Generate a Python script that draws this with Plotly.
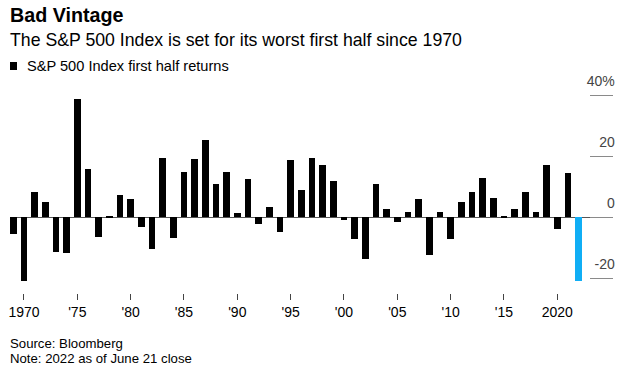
import plotly.graph_objects as go

years = list(range(1969, 2023))
returns = [-5.6, -20.9, 8.2, 4.9, -11.5, -11.8, 38.7, 15.7, -6.3, 0.4,
           7.2, 6.0, -3.1, -10.5, 19.5, -6.9, 14.8, 19.0, 25.3, 10.8,
           14.8, 1.4, 12.5, -2.1, 3.4, -4.7, 18.7, 8.9, 19.5, 17.0,
           11.8, -0.9, -7.2, -13.8, 10.8, 2.7, -1.5, 1.7, 6.0, -12.5,
           1.7, -7.2, 4.9, 8.2, 12.8, 6.3, 0.4, 2.7, 8.2, 1.7,
           17.2, -3.7, 14.4, -20.9]
highlight_year = 2022
series_name = "S&P 500 Index first half returns"
x_tickvals = [1970, 1975, 1980, 1985, 1990, 1995, 2000, 2005, 2010, 2015, 2020]
x_ticktext = ["1970", "'75", "'80", "'85", "'90", "'95", "'00", "'05", "'10", "'15", "2020"]
y_tickvals = [-20, 0, 20, 40]
y_ticktext = ["-20", "0", "20", "40%"]

BLACK = "#000000"
BLUE = "#10AEF5"
colors = [BLUE if y == highlight_year else BLACK for y in years]
FONT = "Liberation Sans, Arial, sans-serif"

W, H = 638, 377
ML, MR, MT, MB = 10, 25, 62, 84
PW, PH = W - ML - MR, H - MT - MB
ZERO_PX = 217.3
PX_PER_PCT = 3.05
y_range = [-(H - MB - ZERO_PX) / PX_PER_PCT, (ZERO_PX - MT) / PX_PER_PCT]


def px_x(px):
    return (px - ML) / PW


def px_y(py):
    return (H - MB - py) / PH


fig = go.Figure()
fig.add_trace(go.Bar(x=years, y=returns, name=series_name,
                     marker=dict(color=colors, line=dict(width=0)),
                     width=0.63, showlegend=False, hoverinfo="x+y"))

fig.update_layout(
    width=W, height=H,
    margin=dict(l=ML, r=MR, t=MT, b=MB, autoexpand=False),
    paper_bgcolor="white", plot_bgcolor="white",
    font=dict(family=FONT, color="#000"),
    bargap=0,
    showlegend=False,
    xaxis=dict(range=[1968.69, 2025.22], tickvals=x_tickvals, ticktext=x_ticktext,
               ticks="outside", ticklen=6, tickwidth=1, tickcolor="#444",
               showgrid=False, showline=False, zeroline=False,
               tickfont=dict(size=14, family=FONT), fixedrange=True),
    yaxis=dict(range=y_range, side="right", tickvals=y_tickvals, ticktext=y_ticktext,
               ticks="inside", ticklen=23, tickwidth=1.3, tickcolor="#8a8a8a",
               ticklabelposition="inside", ticklabelstandoff=-25, ticklabelshift=-14,
               showgrid=False, showline=False,
               zeroline=True, zerolinecolor="#555", zerolinewidth=1.2,
               tickfont=dict(size=14, family=FONT), fixedrange=True),
    shapes=[
        dict(type="rect", xref="paper", yref="paper",
             x0=px_x(10), x1=px_x(17), y0=px_y(70), y1=px_y(62),
             fillcolor=BLACK, line=dict(width=0)),
    ],
    annotations=[
        dict(text="<b>Bad Vintage</b>", xref="paper", yref="paper",
             x=px_x(8), y=px_y(14.5), xanchor="left", yanchor="middle",
             showarrow=False, font=dict(size=19.7, family=FONT)),
        dict(text="The S&P 500 Index is set for its worst first half since 1970",
             xref="paper", yref="paper",
             x=px_x(8), y=px_y(39.5), xanchor="left", yanchor="middle",
             showarrow=False, font=dict(size=17.7, family=FONT)),
        dict(text=series_name, xref="paper", yref="paper",
             x=px_x(25), y=px_y(66.5), xanchor="left", yanchor="middle",
             showarrow=False, font=dict(size=14.6, family=FONT)),
        dict(text="Source: Bloomberg", xref="paper", yref="paper",
             x=px_x(8), y=px_y(343.5), xanchor="left", yanchor="middle",
             showarrow=False, font=dict(size=13.2, family=FONT)),
        dict(text="Note: 2022 as of June 21 close", xref="paper", yref="paper",
             x=px_x(8), y=px_y(358.5), xanchor="left", yanchor="middle",
             showarrow=False, font=dict(size=13.2, family=FONT)),
    ],
)

fig.write_html("out.html", config={"displayModeBar": False},
               post_script="document.body.style.margin='0';")
